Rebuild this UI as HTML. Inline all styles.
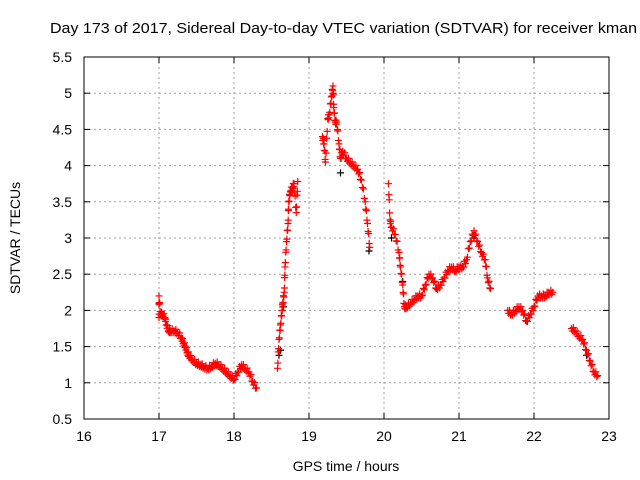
<!DOCTYPE html>
<html><head><meta charset="utf-8"><style>
body{margin:0;background:#fff;}
svg{display:block;font-family:"Liberation Sans",sans-serif;}
</style></head><body>
<svg id="chart" width="640" height="480">
<rect width="640" height="480" fill="#fff"/>
<text x="50" y="33" font-size="15" textLength="587" lengthAdjust="spacingAndGlyphs">Day 173 of 2017, Sidereal Day-to-day VTEC variation (SDTVAR) for receiver kman</text>
<g id="grid"></g><g id="ticks"></g><g id="marks"></g>
<rect x="84" y="57" width="525" height="362" fill="none" stroke="#000" stroke-width="1"/>
<text x="346" y="471" font-size="14" text-anchor="middle">GPS time / hours</text>
<text transform="translate(20,238) rotate(-90)" font-size="14" text-anchor="middle">SDTVAR / TECUs</text>
</svg>
<script>
const xTicks=[16,17,18,19,20,21,22,23];
const yTicks=[0.5,1,1.5,2,2.5,3,3.5,4,4.5,5,5.5];
const times=[17.0,17.0,17.02,17.05,17.08,17.1,17.13,17.15,17.2,17.25,17.3,17.33,17.35,17.38,17.4,17.45,17.5,17.55,17.6,17.65,17.7,17.75,17.8,17.85,17.9,17.95,18.0,18.05,18.1,18.15,18.2,18.25,18.3,
18.58,18.6,18.62,18.64,18.65,18.67,18.68,18.7,18.72,18.73,18.75,18.78,18.8,18.83,18.85,
19.18,19.2,19.22,19.25,19.27,19.3,19.32,19.33,19.35,19.37,19.4,19.42,19.45,19.5,19.55,19.6,19.65,19.7,19.75,19.78,19.81,
20.06,20.08,20.1,20.15,20.2,20.22,20.25,20.27,20.3,20.35,20.4,20.45,20.5,20.55,20.6,20.65,20.7,20.75,20.8,20.85,20.9,20.95,21.0,21.05,21.1,21.15,21.2,21.25,21.3,21.35,21.38,21.42,
21.65,21.7,21.75,21.8,21.85,21.9,21.95,22.0,22.05,22.1,22.15,22.2,22.25,
22.5,22.55,22.6,22.65,22.7,22.75,22.8,22.85];
const values=[1.9,2.2,1.95,1.95,1.9,1.8,1.72,1.72,1.72,1.7,1.62,1.55,1.5,1.42,1.38,1.32,1.27,1.25,1.22,1.2,1.23,1.27,1.25,1.2,1.15,1.1,1.05,1.15,1.25,1.2,1.15,1.02,0.93,
1.2,1.6,1.8,2.0,2.1,2.25,2.6,2.95,3.2,3.5,3.65,3.7,3.75,3.35,3.78,
4.4,4.3,4.05,4.65,4.7,4.95,5.1,4.8,4.6,4.6,4.3,4.1,4.2,4.1,4.05,4.0,3.95,3.8,3.5,3.2,2.87,
3.75,3.25,3.15,3.05,2.8,2.6,2.35,2.05,2.05,2.1,2.15,2.2,2.2,2.35,2.5,2.45,2.3,2.35,2.45,2.55,2.6,2.55,2.6,2.6,2.7,2.95,3.1,2.95,2.8,2.7,2.45,2.3,
2.0,1.95,2.0,2.05,2.0,1.85,1.95,2.05,2.2,2.2,2.2,2.25,2.25,
1.75,1.72,1.65,1.6,1.45,1.3,1.15,1.1];
const blackTimes=[18.6,18.62,18.66,19.2,19.42,19.8,20.1,20.25,21.2,22.7];
const blackValues=[1.38,1.45,2.05,4.35,3.9,2.82,3.0,2.4,3.0,1.38];
const X=v=>84+(v-16)*75, Y=v=>419-(v-0.5)*72.4;
const NS="http://www.w3.org/2000/svg";
const grid=document.getElementById('grid'),ticks=document.getElementById('ticks'),marks=document.getElementById('marks');
function mk(tag,attrs,parent){const e=document.createElementNS(NS,tag);for(const k in attrs)e.setAttribute(k,attrs[k]);parent.appendChild(e);return e;}
xTicks.forEach(t=>{const x=X(t);
 if(t>16&&t<23){const l=mk('line',{x1:x,x2:x,y1:57,y2:419,stroke:'#a0a0a0','stroke-dasharray':'2,3'},grid);
 
 }
 mk('line',{x1:x,x2:x,y1:419,y2:413,stroke:'#000'},ticks);mk('line',{x1:x,x2:x,y1:57,y2:63,stroke:'#000'},ticks);
 const tx=mk('text',{x:x,y:441,'font-size':14,'text-anchor':'middle'},ticks);tx.textContent=t;
 
 });
yTicks.forEach(t=>{const y=Y(t);
 if(t>0.5&&t<5.5){const l=mk('line',{x1:84,x2:609,y1:y,y2:y,stroke:'#a0a0a0','stroke-dasharray':'2,3'},grid);
 
 }
 mk('line',{x1:84,x2:90,y1:y,y2:y,stroke:'#000'},ticks);mk('line',{x1:609,x2:603,y1:y,y2:y,stroke:'#000'},ticks);
 const tx=mk('text',{x:72,y:y+5,'font-size':14,'text-anchor':'end'},ticks);tx.textContent=t;
 
 });
function plus(x,y,c,name){const p=mk('path',{d:`M${x-3.5},${y}h7M${x},${y-3.5}v7`,stroke:c,'stroke-width':1.2,fill:'none'},marks);
 
 }
blackTimes.forEach((t,i)=>plus(X(t),Y(blackValues[i]),'#000','black-point'));
for(let i=0;i<times.length;i++){
 plus(X(times[i]),Y(values[i]),'#f00','sdtvar-point');
 const n=times[i+1];
 if(n!==undefined&&n-times[i]<0.1){
  for(let k=1;k<4;k++){const f=k/4;plus(X(times[i]+(n-times[i])*f),Y(values[i]+(values[i+1]-values[i])*f)+((k%2)?2:-2),'#f00','sdtvar-point');}
 }}
</script>
</body></html>
